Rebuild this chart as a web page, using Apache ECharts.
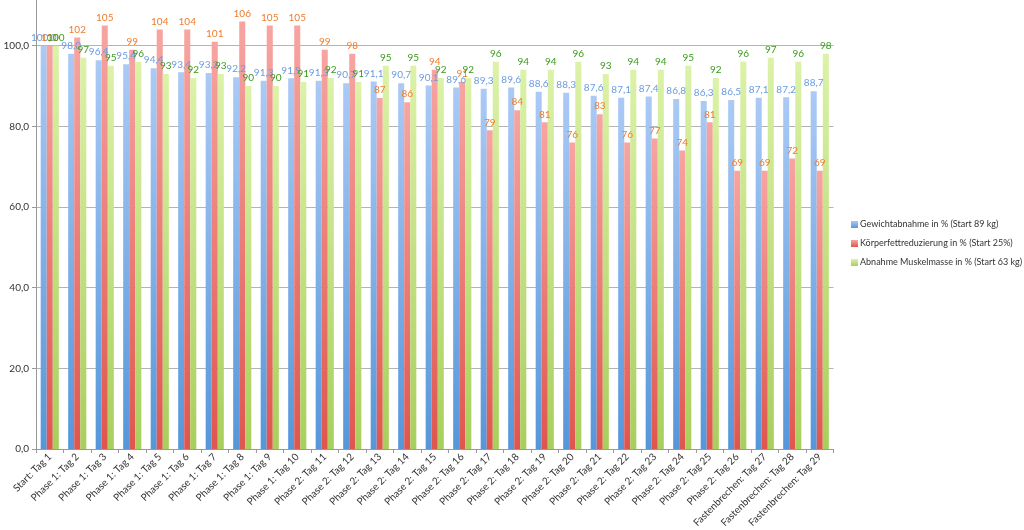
<!DOCTYPE html>
<html><head><meta charset="utf-8">
<script src="https://cdn.jsdelivr.net/npm/echarts@6/dist/echarts.min.js"></script>
<style>html,body{margin:0;padding:0;background:#fff}#c{width:1024px;height:530px}</style>
</head><body><div id="c"></div>
<script>
const categories = ["Start: Tag 1","Phase 1: Tag 2","Phase 1: Tag 3","Phase 1: Tag 4","Phase 1: Tag 5","Phase 1: Tag 6","Phase 1: Tag 7","Phase 1: Tag 8","Phase 1: Tag 9","Phase 1: Tag 10","Phase 2: Tag 11","Phase 2: Tag 12","Phase 2: Tag 13","Phase 2: Tag 14","Phase 2: Tag 15","Phase 2: Tag 16","Phase 2: Tag 17","Phase 2: Tag 18","Phase 2: Tag 19","Phase 2: Tag 20","Phase 2: Tag 21","Phase 2: Tag 22","Phase 2: Tag 23","Phase 2: Tag 24","Phase 2: Tag 25","Phase 2: Tag 26","Fastenbrechen: Tag 27","Fastenbrechen: Tag 28","Fastenbrechen: Tag 29"];
const gewicht = [100.0,98.0,96.4,95.4,94.4,93.4,93.2,92.2,91.3,91.9,91.3,90.7,91.1,90.7,90.1,89.6,89.3,89.6,88.6,88.3,87.6,87.1,87.4,86.8,86.3,86.5,87.1,87.2,88.7];
const koerperfett = [100,102,105,99,104,104,101,106,105,105,99,98,87,86,94,91,79,84,81,76,83,76,77,74,81,69,69,72,69];
const muskel = [100,97,95,96,93,92,93,90,90,91,92,91,95,95,92,92,96,94,94,96,93,94,94,95,92,96,97,96,98];
const seriesNames = ["Gewichtabnahme in % (Start 89 kg)","Körperfettreduzierung in % (Start 25%)","Abnahme Muskelmasse in % (Start 63 kg)"];

const FONT = 'Lato';
function grad(top, bottom){
  return new echarts.graphic.LinearGradient(0,0,0,1,[{offset:0,color:top},{offset:1,color:bottom}]);
}
const fmt1 = v => v.toFixed(1).replace('.', ',');
const chart = echarts.init(document.getElementById('c'));
chart.setOption({
  animation:false,
  textStyle:{fontFamily:FONT},
  grid:{left:36,right:190.5,top:-35,bottom:81,containLabel:false,outerBoundsMode:'none'},
  legend:{
    orient:'vertical', left:846, top:214, itemWidth:7, itemHeight:7, itemGap:8,
    icon:'rect',
    textStyle:{fontFamily:FONT,fontSize:9,lineHeight:11,color:'#333',padding:[0,0,0,-3]},
    data:seriesNames
  },
  xAxis:{
    type:'category', data:categories,
    axisLine:{lineStyle:{color:'#999'}},
    axisTick:{show:true,alignWithLabel:false,length:4,lineStyle:{color:'#999'}},
    axisLabel:{rotate:45,interval:0,fontSize:10,color:'#333',fontFamily:FONT,margin:6}
  },
  yAxis:{
    type:'value', min:0, max:120, interval:20,
    axisLine:{show:true,lineStyle:{color:'#999'}},
    axisTick:{show:true,length:4,lineStyle:{color:'#999'}},
    axisLabel:{fontSize:10,color:'#333',fontFamily:FONT,formatter:v=>fmt1(v),margin:7},
    splitLine:{lineStyle:{color:'#b4b4b4'}}
  },
  series:[
    {name:seriesNames[0],type:'bar',data:gewicht,barGap:'0%',barCategoryGap:'34%',
     itemStyle:{color:grad('#abcaf5','#5596da')},
     label:{show:true,position:'top',distance:3,fontSize:10,color:'#6a9be0',fontFamily:FONT,formatter:p=>fmt1(p.value)}},
    {name:seriesNames[1],type:'bar',data:koerperfett,
     itemStyle:{color:grad('#f7a5a2','#e0554e')},
     label:{show:true,position:'top',distance:3,fontSize:10,color:'#ee7b2c',fontFamily:FONT,formatter:p=>String(Math.round(p.value))}},
    {name:seriesNames[2],type:'bar',data:muskel,
     itemStyle:{color:grad('#dcf2a8','#a8cf5c')},
     label:{show:true,position:'top',distance:3,fontSize:10,color:'#3a9a1c',fontFamily:FONT,formatter:p=>String(Math.round(p.value))}}
  ]
});
</script></body></html>
